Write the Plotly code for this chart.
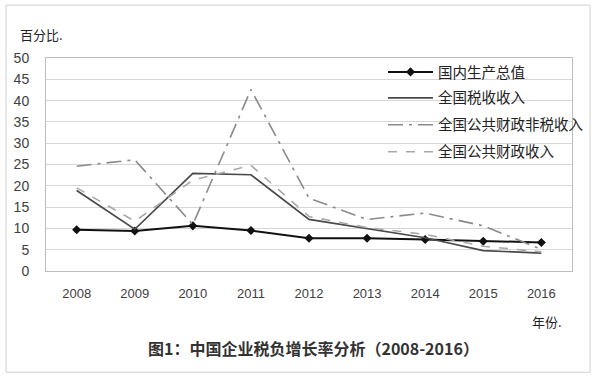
import plotly.graph_objects as go

years = ["2008", "2009", "2010", "2011", "2012", "2013", "2014", "2015", "2016"]
gdp = [9.7, 9.4, 10.6, 9.5, 7.7, 7.7, 7.4, 7.0, 6.7]
tax = [18.9, 9.8, 22.9, 22.6, 12.1, 9.9, 7.8, 4.8, 4.2]
nontax = [24.6, 26.1, 10.9, 42.6, 17.1, 12.1, 13.6, 10.6, 5.1]
public = [19.5, 11.7, 21.3, 24.8, 12.8, 10.2, 8.6, 5.8, 4.5]

names = ["国内生产总值", "全国税收收入", "全国公共财政非税收入", "全国公共财政收入"]
y_ticks = [0, 5, 10, 15, 20, 25, 30, 35, 40, 45, 50]

cjk = "Noto Sans CJK SC"
W, H = 595, 376
ML, MR, MT, MB = 46, 23, 58, 104.5
pw, ph = W - ML - MR, H - MT - MB


def px2paper(xp, yp):
    return (xp - ML) / pw, (H - MB - yp) / ph


fig = go.Figure()
fig.add_trace(go.Scatter(x=years, y=gdp, name=names[0], mode="lines+markers", legend="legend",
                         line=dict(color="#111111", width=2),
                         marker=dict(symbol="diamond", size=7, color="#111111")))
fig.add_trace(go.Scatter(x=years, y=tax, name=names[1], mode="lines", legend="legend2",
                         line=dict(color="#4a4a4a", width=1.7)))
fig.add_trace(go.Scatter(x=years, y=nontax, name=names[2], mode="lines", legend="legend3",
                         line=dict(color="#8a8a8a", width=1.6, dash="longdashdot")))
fig.add_trace(go.Scatter(x=years, y=public, name=names[3], mode="lines", legend="legend4",
                         line=dict(color="#a8a8a8", width=1.6, dash="dash")))

leg_common = dict(xanchor="left", yanchor="middle", bgcolor="rgba(0,0,0,0)",
                  font=dict(size=14.5, family=cjk, color="#222222"), borderwidth=0,
                  itemwidth=45)
leg_x, _ = px2paper(383, 0)
legends = {}
for key, yp in zip(["legend", "legend2", "legend3", "legend4"], [72, 98, 125, 152]):
    _, ly = px2paper(0, yp)
    legends[key] = dict(x=leg_x, y=ly, **leg_common)

fig.update_layout(
    width=W, height=H,
    margin=dict(l=ML, r=MR, t=MT, b=MB, autoexpand=False),
    paper_bgcolor="white", plot_bgcolor="white",
    font=dict(family=cjk, color="#333333"),
    showlegend=True,
    xaxis=dict(type="category", showgrid=False, showline=True, linecolor="#bdbdbd",
               mirror=True, ticks="", ticklabelstandoff=10,
               tickfont=dict(size=13, family="Liberation Sans", color="#404040")),
    yaxis=dict(range=[0, 50], tickvals=y_ticks, showgrid=True, gridcolor="#d6d6d6",
               showline=True, linecolor="#bdbdbd", mirror=True, zeroline=False,
               ticks="", ticklabelstandoff=13,
               tickfont=dict(size=14, family="Liberation Sans", color="#404040")),
    **legends,
)

anns = []
specs = [
    ("百分比.", 41, 34, 13, "#222222"),
    ("年份.", 547, 322, 13, "#222222"),
    ("<b>图1：中国企业税负增长率分析（2008-2016）</b>", 313, 349, 16, "#333333"),
]
for text, xp, yp, size, col in specs:
    xx, yy = px2paper(xp, yp)
    anns.append(dict(text=text, x=xx, y=yy, xref="paper", yref="paper", showarrow=False,
                     xanchor="center", yanchor="middle",
                     font=dict(size=size, color=col, family=cjk)))
fig.update_layout(annotations=anns)

x0, y0 = px2paper(6, 5)
x1, y1 = px2paper(590, 373)
fig.add_shape(type="rect", xref="paper", yref="paper", x0=x0, y0=y1, x1=x1, y1=y0,
              line=dict(color="#d0d0d0", width=1), layer="above")

fig.write_html("out.html", config={"displayModeBar": False},
               post_script="document.body.style.margin='0';")
